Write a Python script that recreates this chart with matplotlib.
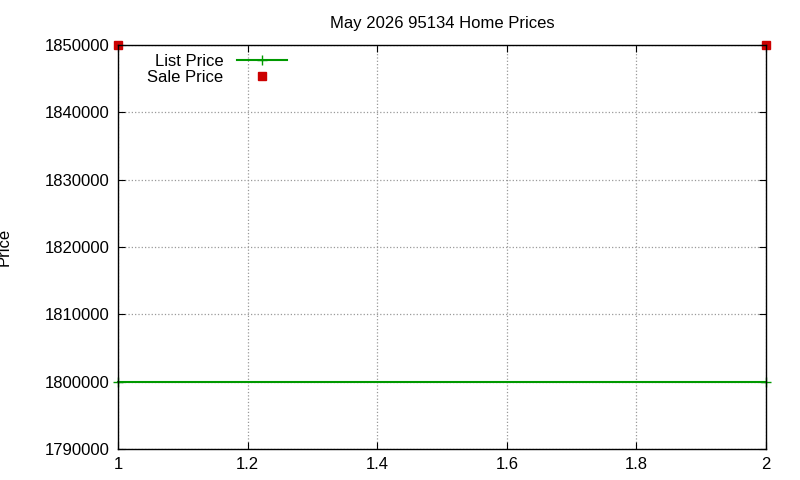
import matplotlib
matplotlib.use("Agg")
import matplotlib.pyplot as plt

x = [1, 2]
list_price = [1800000, 1800000]
sale_price = [1850000, 1850000]
title = "May 2026 95134 Home Prices"

plt.rcParams['font.family'] = ['Liberation Sans', 'DejaVu Sans']
fig = plt.figure(figsize=(8, 4.8), dpi=100)
ax = fig.add_axes([118/800, 1-449/480, (766-118)/800, (449-45)/480])
ax.plot(x, list_price, color='#009900', lw=1.5, marker='+', ms=7, label='List Price', clip_on=False)
ax.plot(x, sale_price, color='#cc0000', lw=0, marker='s', ms=6, label='Sale Price', clip_on=False)
ax.set_xlim(1, 2)
ax.set_ylim(1790000, 1850000)
ax.set_xticks([1, 1.2, 1.4, 1.6, 1.8, 2])
ax.set_xticklabels(['1', '1.2', '1.4', '1.6', '1.8', '2'])
ax.set_yticks(range(1790000, 1850001, 10000))
ax.yaxis.set_major_formatter(matplotlib.ticker.FuncFormatter(lambda v, p: f"{int(v)}"))
ax.grid(True, color='#999999', ls=':', lw=0.9)
ax.tick_params(direction='in', labelsize=12, top=True, right=True, length=5, pad=6)
for s in ax.spines.values():
    s.set_linewidth(1)
ax.set_ylabel('Price', fontsize=12, labelpad=24)
ax.set_title(title, fontsize=12, pad=12)
leg = ax.legend(loc='upper left', bbox_to_anchor=(0.035, 0.995), frameon=False, fontsize=12,
                markerfirst=False, handlelength=3, borderaxespad=0, labelspacing=0.05)
for t in leg.get_texts():
    t.set_ha('right')
fig.savefig('out.png', dpi=100)
